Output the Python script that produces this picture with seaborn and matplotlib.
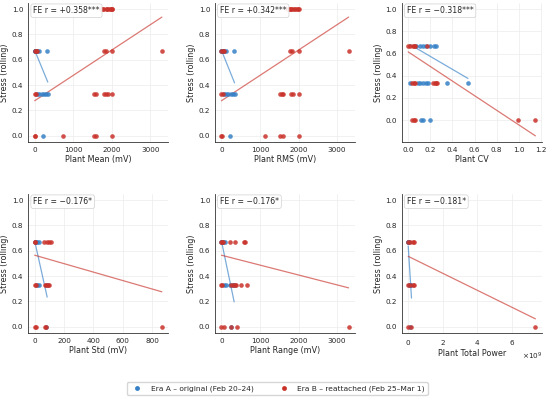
import numpy as np
import matplotlib
matplotlib.use("Agg")
import matplotlib.pyplot as plt
from matplotlib.lines import Line2D
from matplotlib.ticker import MultipleLocator
import seaborn as sns

# --- data ---
X_LABELS = ['Plant Mean (mV)', 'Plant RMS (mV)', 'Plant CV',
            'Plant Std (mV)', 'Plant Range (mV)', 'Plant Total Power']
FE_R = ['+0.358***', '+0.342***', '\u22120.318***', '\u22120.176*', '\u22120.176*', '\u22120.181*']
ERA_LABELS = ['Era A \u2013 original (Feb 20\u201324)', 'Era B \u2013 reattached (Feb 25\u2013Mar 1)']

MEAN_A_X = [0, 10, 20, 30, 40, 60, 120, 330, 70, 120, 180, 250, 300, 340, 220]
MEAN_A_Y = [0.667, 0.667, 0.667, 0.667, 0.667, 0.667, 0.667, 0.667,
            0.333, 0.333, 0.333, 0.333, 0.333, 0.333, 0.0]
MEAN_B_X = [1720, 1760, 1780, 1840, 1870, 1900, 1950, 1990, 2000, 2010,
            0, 30, 60, 1800, 1850, 2000, 3300,
            0, 40, 1530, 1600, 1800, 1850, 1900, 2000,
            0, 15, 730, 1530, 1600, 2000]
MEAN_B_Y = [1.0, 1.0, 1.0, 1.0, 1.0, 1.0, 1.0, 1.0, 1.0, 1.0,
            0.667, 0.667, 0.667, 0.667, 0.667, 0.667, 0.667,
            0.333, 0.333, 0.333, 0.333, 0.333, 0.333, 0.333, 0.333,
            0.0, 0.0, 0.0, 0.0, 0.0, 0.0]

RMS_A_X = [0, 10, 20, 30, 40, 60, 120, 330, 70, 120, 180, 250, 300, 340, 220]
RMS_A_Y = [0.667, 0.667, 0.667, 0.667, 0.667, 0.667, 0.667, 0.667,
           0.333, 0.333, 0.333, 0.333, 0.333, 0.333, 0.0]
RMS_B_X = [1700, 1740, 1770, 1800, 1840, 1880, 1920, 1960, 1990, 2000,
           0, 30, 60, 1780, 1830, 2000, 3300,
           0, 40, 1530, 1580, 1600, 1800, 1850, 2000,
           0, 15, 1120, 1530, 1600, 2000]
RMS_B_Y = MEAN_B_Y

CV_A_X = [0.07, 0.11, 0.13, 0.16, 0.20, 0.23, 0.25,
          0.015, 0.09, 0.11, 0.13, 0.16, 0.18, 0.35, 0.54,
          0.12, 0.13, 0.20]
CV_A_Y = [0.667, 0.667, 0.667, 0.667, 0.667, 0.667, 0.667,
          0.333, 0.333, 0.333, 0.333, 0.333, 0.333, 0.333, 0.333,
          0.0, 0.0, 0.0]
CV_B_X = [0.0, 0.02, 0.04, 0.05, 0.06, 0.17,
          0.03, 0.05, 0.06, 0.22, 0.24, 0.25, 0.26,
          0.03, 0.05, 0.06, 0.99, 1.15]
CV_B_Y = [0.667, 0.667, 0.667, 0.667, 0.667, 0.667,
          0.333, 0.333, 0.333, 0.333, 0.333, 0.333, 0.333,
          0.0, 0.0, 0.0, 0.0, 0.0]

STD_A_X = [0, 10, 18, 27, 15, 27, 85, 75]
STD_A_Y = [0.667, 0.667, 0.667, 0.667, 0.333, 0.333, 0.333, 0.0]
STD_B_X = [0, 5, 62, 82, 96, 112, 0, 7, 67, 78, 89, 100, 0, 10, 67, 78, 865]
STD_B_Y = [0.667, 0.667, 0.667, 0.667, 0.667, 0.667,
           0.333, 0.333, 0.333, 0.333, 0.333, 0.333,
           0.0, 0.0, 0.0, 0.0, 0.0]

RANGE_A_X = [0, 10, 20, 40, 85, 60, 125, 210, 290, 330, 250]
RANGE_A_Y = [0.667, 0.667, 0.667, 0.667, 0.667,
             0.333, 0.333, 0.333, 0.333, 0.333, 0.0]
RANGE_B_X = [0, 20, 40, 210, 350, 590, 610,
             0, 20, 250, 290, 340, 380, 500, 670,
             0, 70, 250, 400, 3300]
RANGE_B_Y = [0.667, 0.667, 0.667, 0.667, 0.667, 0.667, 0.667,
             0.333, 0.333, 0.333, 0.333, 0.333, 0.333, 0.333, 0.333,
             0.0, 0.0, 0.0, 0.0, 0.0]

POWER_A_X = [0, 1e7, 3e7, 5e7, 8e7, 1.9e8, 1.2e8]
POWER_A_Y = [0.667, 0.667, 0.667, 0.333, 0.333, 0.333, 0.0]
POWER_B_X = [0, 1e8, 2.5e8, 3.5e8, 0, 1e8, 2.5e8, 3.5e8, 0, 1.5e8, 7.35e9]
POWER_B_Y = [0.667, 0.667, 0.667, 0.667, 0.333, 0.333, 0.333, 0.333, 0.0, 0.0, 0.0]

# fitted lines per era (slope, intercept), one per panel
FIT_A_SLOPE = [-0.000737, -0.000755, -0.583, -0.00521, -0.001455, -2.16e-9]
FIT_A_ICPT = [0.675, 0.675, 0.691, 0.677, 0.677, 0.637]
FIT_B_SLOPE = [0.000200, 0.000200, -0.657, -0.000334, -0.0000781, -6.71e-11]
FIT_B_ICPT = [0.277, 0.277, 0.615, 0.565, 0.565, 0.556]

BLUE = '#3580c6'
RED = '#c9322a'

panels = [
    (MEAN_A_X, MEAN_A_Y, MEAN_B_X, MEAN_B_Y),
    (RMS_A_X, RMS_A_Y, RMS_B_X, RMS_B_Y),
    (CV_A_X, CV_A_Y, CV_B_X, CV_B_Y),
    (STD_A_X, STD_A_Y, STD_B_X, STD_B_Y),
    (RANGE_A_X, RANGE_A_Y, RANGE_B_X, RANGE_B_Y),
    (POWER_A_X, POWER_A_Y, POWER_B_X, POWER_B_Y),
]

sns.set_style('whitegrid', {'grid.color': '#ececec', 'axes.edgecolor': '#333333'})
plt.rcParams['font.family'] = ['DejaVu Sans']

fig, axes = plt.subplots(2, 3, figsize=(5.5, 3.98), dpi=100)
fig.subplots_adjust(left=0.0515, right=0.985, top=0.993, bottom=0.163,
                    wspace=0.335, hspace=0.37)

for i, ax in enumerate(axes.flat):
    ax_x, ax_y, bx, by = panels[i]
    y_low = 0.0
    for x, y, color, slope, icpt in [
        (ax_x, ax_y, BLUE, FIT_A_SLOPE[i], FIT_A_ICPT[i]),
        (bx, by, RED, FIT_B_SLOPE[i], FIT_B_ICPT[i]),
    ]:
        sns.scatterplot(x=x, y=y, color=color, s=11, alpha=0.85,
                        linewidth=0, ax=ax, legend=False, zorder=3)
        xs = np.array([min(x), max(x)])
        ys = icpt + slope * xs
        sns.lineplot(x=xs, y=ys, color=color, alpha=0.65,
                     linewidth=0.9, ax=ax, zorder=2)
        y_low = min(y_low, ys.min())

    # stress scale always shown up to 1.0
    pad = 0.05 * (1.0 - y_low)
    ax.set_ylim(y_low - pad, 1.0 + pad)
    ax.set_yticks([0.0, 0.2, 0.4, 0.6, 0.8, 1.0])

    ax.set_xlabel(X_LABELS[i], fontsize=5.8, labelpad=1.5)
    ax.set_ylabel('Stress (rolling)', fontsize=5.8, labelpad=2)
    ax.tick_params(labelsize=5.2, length=2, width=0.5, color='#333333', pad=1.5)
    ax.grid(linewidth=0.5)
    for sp in ['left', 'bottom']:
        ax.spines[sp].set_linewidth(0.6)
    ax.text(0.035, 0.975, f'FE r = {FE_R[i]}', transform=ax.transAxes,
            fontsize=5.6, ha='left', va='top', zorder=5,
            bbox=dict(boxstyle='round,pad=0.3', fc='white', ec='#cccccc',
                      lw=0.5, alpha=0.9))

axes.flat[2].xaxis.set_major_locator(MultipleLocator(0.2))
axes.flat[5].ticklabel_format(axis='x', useMathText=True)
axes.flat[5].xaxis.get_offset_text().set_fontsize(5.2)

sns.despine(fig)

handles = [Line2D([], [], marker='o', linestyle='', color=c, markersize=3.5,
                  markeredgewidth=0) for c in (BLUE, RED)]
fig.legend(handles, ERA_LABELS, loc='center', bbox_to_anchor=(0.504, 0.024),
           ncol=2, fontsize=5.4, frameon=True, edgecolor='#cccccc',
           handletextpad=0.8, columnspacing=3.0, borderpad=0.4)

fig.savefig('out.png', dpi=100)
